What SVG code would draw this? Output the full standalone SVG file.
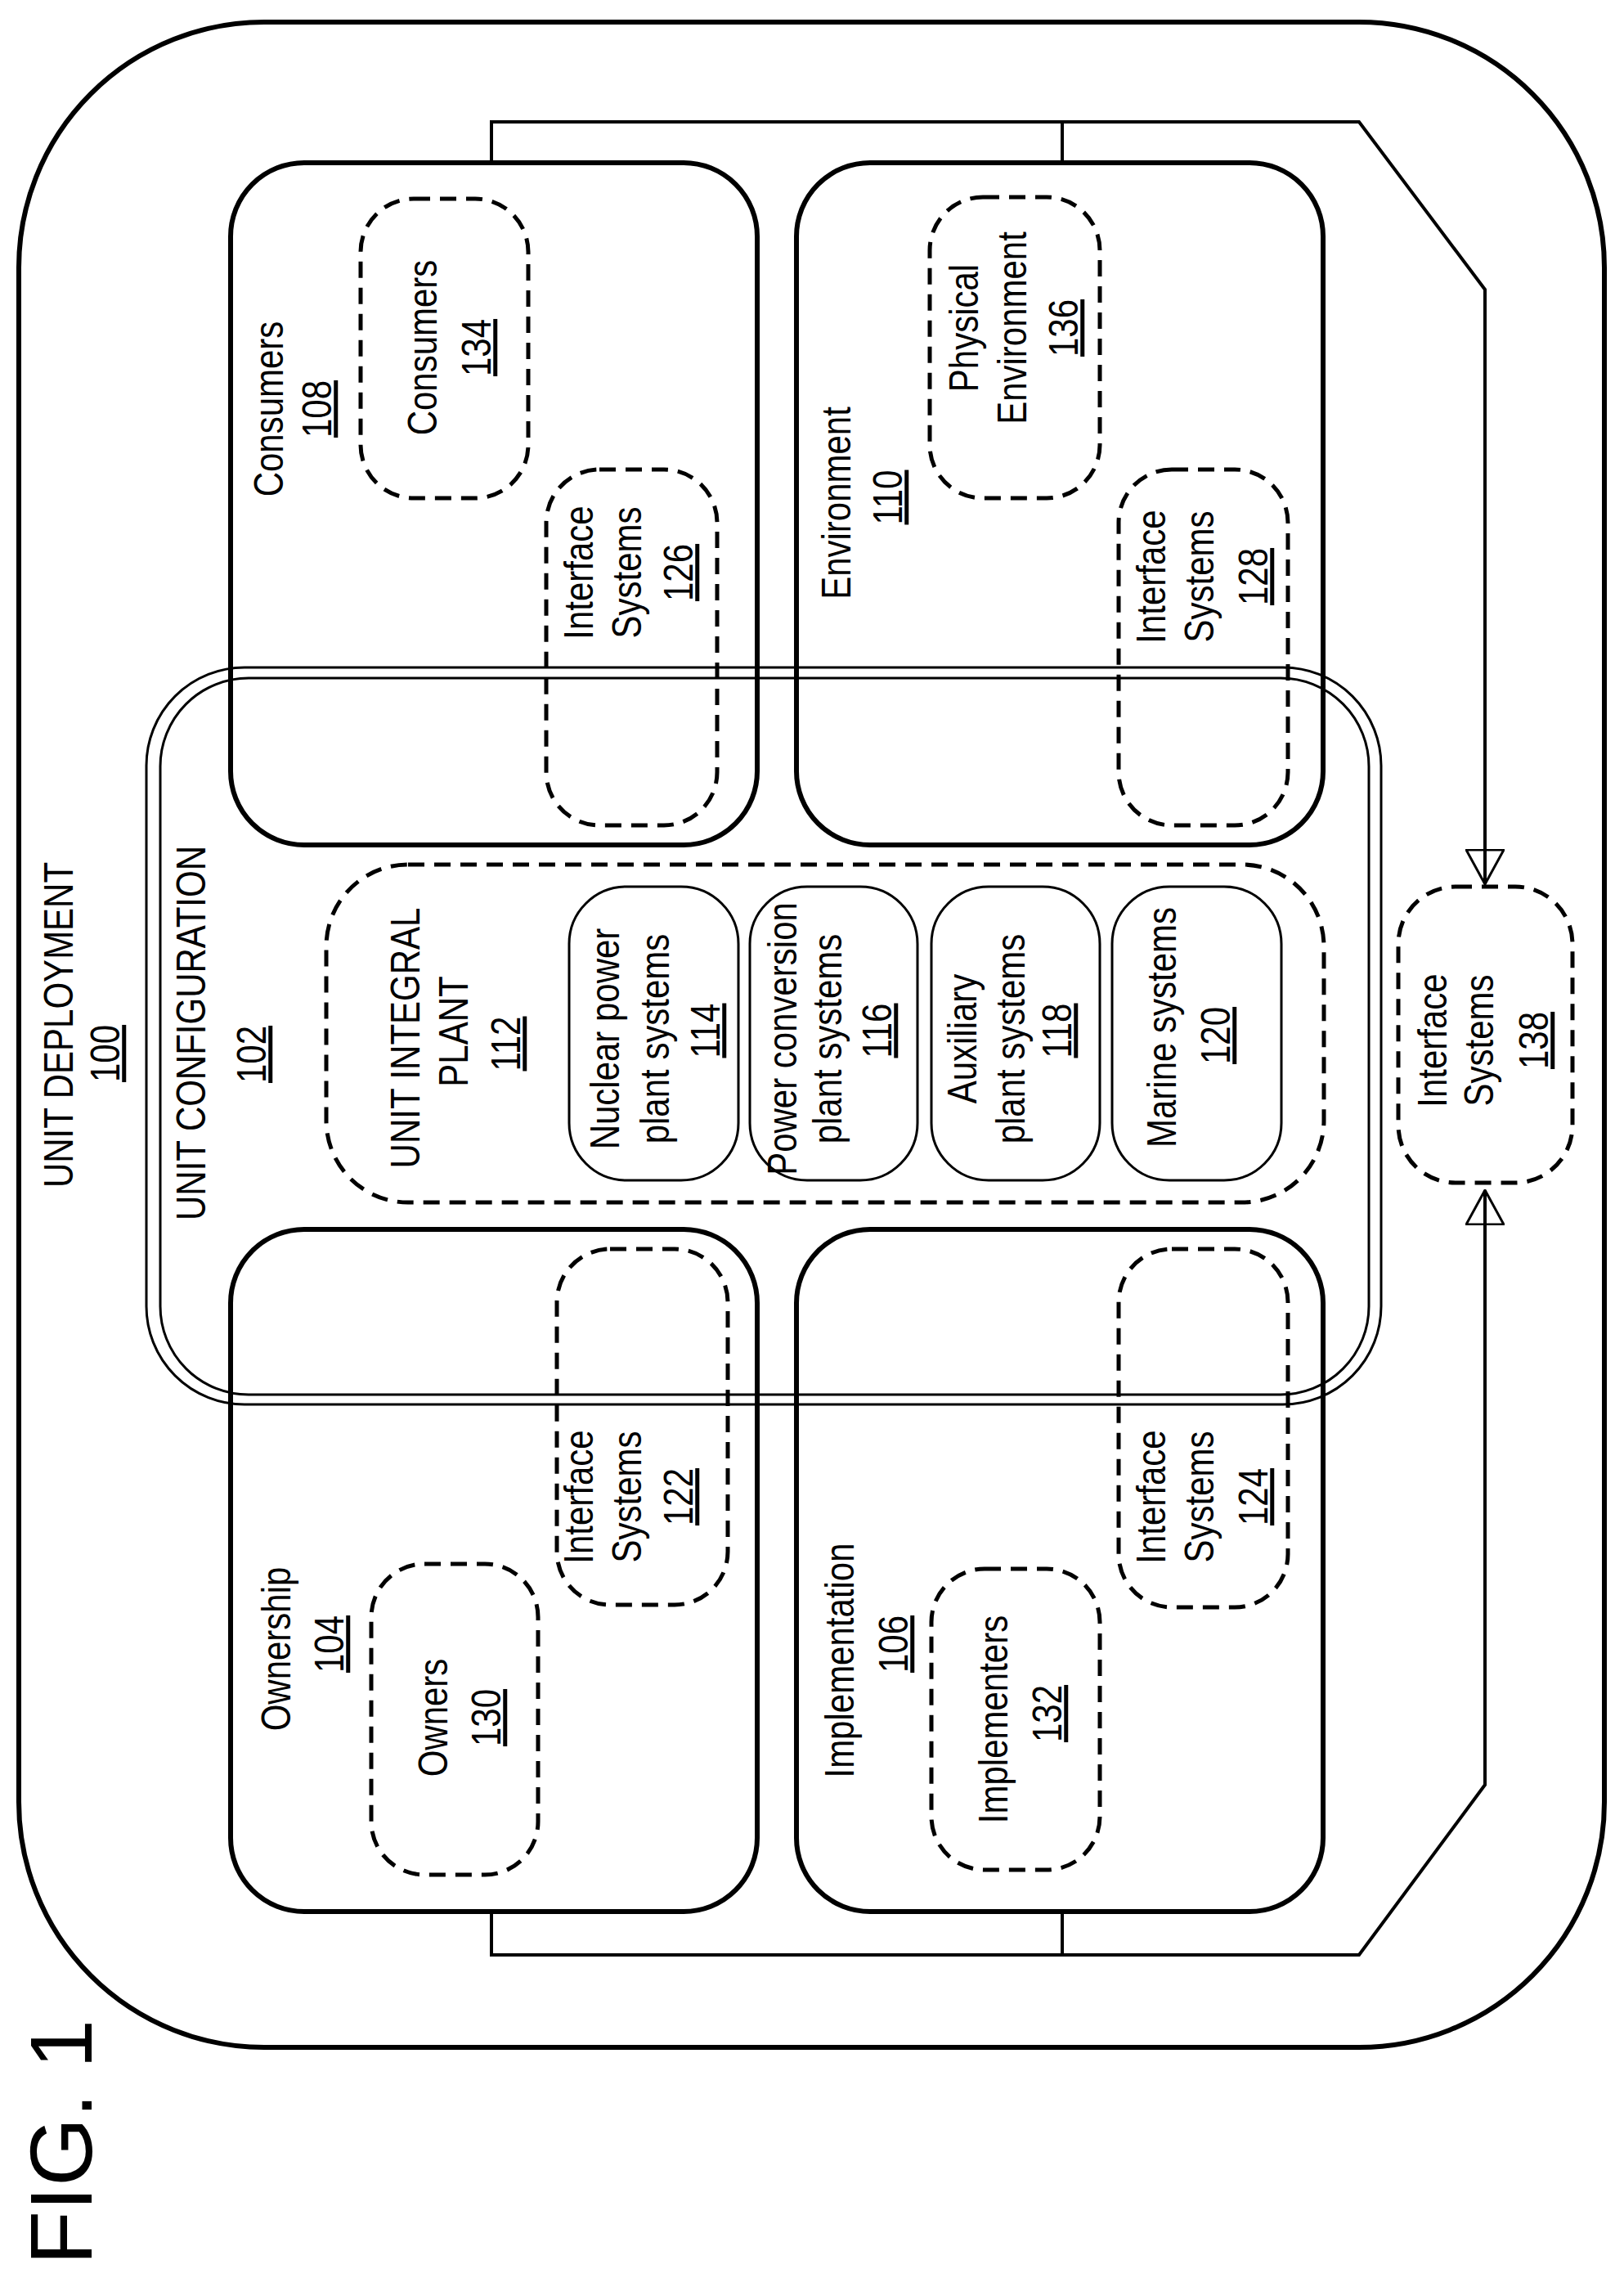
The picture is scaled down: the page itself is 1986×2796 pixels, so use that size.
<svg xmlns="http://www.w3.org/2000/svg" width="1986" height="2796" viewBox="0 0 1986 2796">
<style>
text{font-family:"Liberation Sans",Arial,sans-serif;font-size:50px;fill:#000;text-anchor:middle}
.u{text-decoration:underline}
.solid{fill:none;stroke:#000;stroke-width:6}
.dash{fill:none;stroke:#000;stroke-width:5;stroke-dasharray:20 12}
.thin{fill:none;stroke:#000;stroke-width:3}
.ln{fill:none;stroke:#000;stroke-width:4}
</style>
<defs>
<marker id="ah" viewBox="0 0 44 48" refX="43" refY="24" markerWidth="44" markerHeight="48" markerUnits="userSpaceOnUse" orient="auto">
<path d="M1,1 L43,24 L1,47 Z" fill="none" stroke="#000" stroke-width="3"/>
</marker>
</defs>
<rect width="1986" height="2796" fill="#fff"/>
<text transform="translate(112,2619) rotate(-90)" style="font-size:108px">FIG. 1</text>
<g id="n100"><rect class="solid" x="23" y="27" width="1939" height="2476" rx="300"/>
<text transform="translate(89,1253) rotate(-90) scale(0.84,1)">UNIT DEPLOYMENT</text>
<text class="u" transform="translate(146,1288) rotate(-90) scale(0.84,1)">100</text></g>
<g id="connectors">
<path class="ln" d="M601,199 V149 H1662 L1816,354 V1081" marker-end="url(#ah)"/>
<path class="ln" d="M1299,149 V199"/>
<path class="ln" d="M601,2337 V2390 H1662 L1816,2182 V1455" marker-end="url(#ah)"/>
<path class="ln" d="M1299,2390 V2337"/>
</g>
<g id="n108"><rect class="solid" x="282" y="199" width="644" height="834" rx="90"/>
<text transform="translate(346,500) rotate(-90) scale(0.84,1)">Consumers</text>
<text class="u" transform="translate(405,500) rotate(-90) scale(0.84,1)">108</text></g>
<g id="n110"><rect class="solid" x="974" y="199" width="644" height="834" rx="90"/>
<text transform="translate(1040,615) rotate(-90) scale(0.84,1)">Environment</text>
<text class="u" transform="translate(1103,608) rotate(-90) scale(0.84,1)">110</text></g>
<g id="n104"><rect class="solid" x="282" y="1503" width="644" height="834" rx="90"/>
<text transform="translate(355,2016) rotate(-90) scale(0.84,1)">Ownership</text>
<text class="u" transform="translate(420,2010) rotate(-90) scale(0.84,1)">104</text></g>
<g id="n106"><rect class="solid" x="974" y="1503" width="644" height="834" rx="90"/>
<text transform="translate(1044,2030) rotate(-90) scale(0.84,1)">Implementation</text>
<text class="u" transform="translate(1110,2010) rotate(-90) scale(0.84,1)">106</text></g>
<g id="n102"><rect class="thin" x="179" y="816" width="1510" height="901" rx="120"/>
<rect class="thin" x="196" y="829" width="1478" height="876" rx="108"/>
<text transform="translate(251,1263) rotate(-90) scale(0.84,1)">UNIT CONFIGURATION</text>
<text class="u" transform="translate(325,1289) rotate(-90) scale(0.84,1)">102</text></g>
<g id="n112"><rect class="dash" x="399" y="1057" width="1220" height="413" rx="100"/>
<text transform="translate(513,1269) rotate(-90) scale(0.84,1)">UNIT INTEGRAL</text>
<text transform="translate(572,1261) rotate(-90) scale(0.84,1)">PLANT</text>
<text class="u" transform="translate(636,1276) rotate(-90) scale(0.84,1)">112</text></g>
<g id="n114"><rect class="thin" x="696" y="1084" width="207" height="359" rx="70"/>
<text transform="translate(757,1270) rotate(-90) scale(0.84,1)">Nuclear power</text>
<text transform="translate(818,1270) rotate(-90) scale(0.84,1)">plant systems</text>
<text class="u" transform="translate(880,1260) rotate(-90) scale(0.84,1)">114</text></g>
<g id="n116"><rect class="thin" x="917" y="1084" width="205" height="359" rx="70"/>
<text transform="translate(974,1270) rotate(-90) scale(0.84,1)">Power conversion</text>
<text transform="translate(1029,1270) rotate(-90) scale(0.84,1)">plant systems</text>
<text class="u" transform="translate(1090,1260) rotate(-90) scale(0.84,1)">116</text></g>
<g id="n118"><rect class="thin" x="1139" y="1084" width="206" height="359" rx="70"/>
<text transform="translate(1194,1270) rotate(-90) scale(0.84,1)">Auxiliary</text>
<text transform="translate(1253,1270) rotate(-90) scale(0.84,1)">plant systems</text>
<text class="u" transform="translate(1310,1260) rotate(-90) scale(0.84,1)">118</text></g>
<g id="n120"><rect class="thin" x="1360" y="1084" width="207" height="359" rx="70"/>
<text transform="translate(1438,1256) rotate(-90) scale(0.84,1)">Marine systems</text>
<text class="u" transform="translate(1504,1266) rotate(-90) scale(0.84,1)">120</text></g>
<g id="n130"><rect class="dash" x="454" y="1912" width="204" height="380" rx="65"/>
<text transform="translate(547,2100) rotate(-90) scale(0.84,1)">Owners</text>
<text class="u" transform="translate(612,2100) rotate(-90) scale(0.84,1)">130</text></g>
<g id="n122"><rect class="dash" x="681" y="1527" width="209" height="435" rx="65"/>
<text transform="translate(725,1830) rotate(-90) scale(0.84,1)">Interface</text>
<text transform="translate(784,1830) rotate(-90) scale(0.84,1)">Systems</text>
<text class="u" transform="translate(847,1830) rotate(-90) scale(0.84,1)">122</text></g>
<g id="n132"><rect class="dash" x="1139" y="1918" width="206" height="368" rx="65"/>
<text transform="translate(1232,2102) rotate(-90) scale(0.84,1)">Implementers</text>
<text class="u" transform="translate(1298,2095) rotate(-90) scale(0.84,1)">132</text></g>
<g id="n124"><rect class="dash" x="1368" y="1527" width="207" height="438" rx="65"/>
<text transform="translate(1425,1830) rotate(-90) scale(0.84,1)">Interface</text>
<text transform="translate(1484,1830) rotate(-90) scale(0.84,1)">Systems</text>
<text class="u" transform="translate(1550,1830) rotate(-90) scale(0.84,1)">124</text></g>
<g id="n134"><rect class="dash" x="441" y="243" width="205" height="366" rx="65"/>
<text transform="translate(534,425) rotate(-90) scale(0.84,1)">Consumers</text>
<text class="u" transform="translate(600,425) rotate(-90) scale(0.84,1)">134</text></g>
<g id="n126"><rect class="dash" x="668" y="574" width="209" height="435" rx="65"/>
<text transform="translate(725,700) rotate(-90) scale(0.84,1)">Interface</text>
<text transform="translate(784,700) rotate(-90) scale(0.84,1)">Systems</text>
<text class="u" transform="translate(847,700) rotate(-90) scale(0.84,1)">126</text></g>
<g id="n136"><rect class="dash" x="1137" y="241" width="208" height="368" rx="65"/>
<text transform="translate(1196,401) rotate(-90) scale(0.84,1)">Physical</text>
<text transform="translate(1255,401) rotate(-90) scale(0.84,1)">Environment</text>
<text class="u" transform="translate(1318,401) rotate(-90) scale(0.84,1)">136</text></g>
<g id="n128"><rect class="dash" x="1368" y="574" width="207" height="435" rx="65"/>
<text transform="translate(1425,705) rotate(-90) scale(0.84,1)">Interface</text>
<text transform="translate(1484,705) rotate(-90) scale(0.84,1)">Systems</text>
<text class="u" transform="translate(1550,705) rotate(-90) scale(0.84,1)">128</text></g>
<g id="n138"><rect class="dash" x="1710" y="1084" width="213" height="362" rx="70"/>
<text transform="translate(1769,1272) rotate(-90) scale(0.84,1)">Interface</text>
<text transform="translate(1826,1272) rotate(-90) scale(0.84,1)">Systems</text>
<text class="u" transform="translate(1893,1272) rotate(-90) scale(0.84,1)">138</text></g>
</svg>
